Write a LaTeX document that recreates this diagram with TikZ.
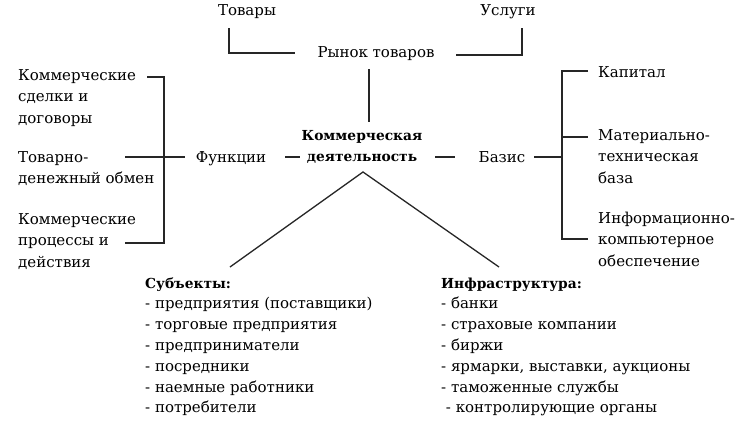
\documentclass[tikz,border=0pt]{standalone}
\usepackage{fontspec}
\setmainfont{DejaVu Serif}
\newcommand{\bhead}[1]{{\fontsize{13.8}{20.8}\selectfont\bfseries #1}}
\begin{document}
\begin{tikzpicture}[x=1pt,y=-1pt,
  txt/.style={inner sep=0pt,font=\fontsize{15}{21.5}\selectfont,align=left,anchor=base west},
  ctr/.style={inner sep=0pt,font=\fontsize{15}{21.5}\selectfont,anchor=base},
  lst/.style={inner sep=0pt,font=\fontsize{15}{20.8}\selectfont,align=left,anchor=base west},
  ln/.style={line width=1.3pt,black!85}]
\useasboundingbox (0,0) rectangle (750,426);
% top
\node[ctr] (tovary) at (247,15) {Товары};
\node[ctr] (uslugi) at (508,15) {Услуги};
\node[ctr] (rynok) at (376,57) {Рынок товаров};
\node[inner sep=0pt,font=\fontsize{13.8}{21.5}\selectfont\bfseries,align=center,anchor=base] (main) at (362,161.5) {Коммерческая\\деятельность};
\node[ctr] (func) at (231,162) {Функции};
\node[ctr] (basis) at (502,162) {Базис};
% left
\node[txt] (l1) at (18,123) {Коммерческие\\сделки и\\договоры};
\node[txt] (l2) at (18,183.5) {Товарно-\\денежный обмен};
\node[txt] (l3) at (18,267) {Коммерческие\\процессы и\\действия};
% right
\node[txt] (r1) at (598,77) {Капитал};
\node[txt] (r2) at (598,183) {Материально-\\техническая\\база};
\node[txt] (r3) at (598,266) {Информационно-\\компьютерное\\обеспечение};
% bottom lists
\node[lst] (subj) at (145,412.8) {\bhead{Субъекты:}\\- предприятия (поставщики)\\- торговые предприятия\\- предприниматели\\- посредники\\- наемные работники\\- потребители};
\node[lst] (infra) at (441,412.8) {\bhead{Инфраструктура:}\\- банки\\- страховые компании\\- биржи\\- ярмарки, выставки, аукционы\\- таможенные службы\\\ - контролирующие органы};
% coordinates
\coordinate (tA) at (229,28); \coordinate (tB) at (229,53); \coordinate (tC) at (295,53);
\coordinate (uA) at (522,28); \coordinate (uB) at (522,55); \coordinate (uC) at (456,55);
\coordinate (rA) at (369,69); \coordinate (rB) at (369,122);
\coordinate (lbT0) at (147,77); \coordinate (lbT) at (164,77); \coordinate (lbB) at (164,243); \coordinate (lbB0) at (125,243);
\coordinate (lbM0) at (125,157); \coordinate (lbM1) at (185,157);
\coordinate (d1a) at (285,157); \coordinate (d1b) at (300,157);
\coordinate (d2a) at (435,157); \coordinate (d2b) at (455,157);
\coordinate (bA) at (534,157); \coordinate (bB) at (562,157);
\coordinate (rbT0) at (588,71); \coordinate (rbT) at (562,71); \coordinate (rbB) at (562,239); \coordinate (rbB0) at (588,239);
\coordinate (rbM) at (562,137); \coordinate (rbM0) at (588,137);
\coordinate (apex) at (363,172); \coordinate (sEnd) at (230,267); \coordinate (iEnd) at (499,267);
% connectors
\draw[ln] (tA) -- (tB) -- (tC);
\draw[ln] (uA) -- (uB) -- (uC);
\draw[ln] (rA) -- (rB);
\draw[ln] (lbT0) -- (lbT) -- (lbB) -- (lbB0);
\draw[ln] (lbM0) -- (lbM1);
\draw[ln] (d1a) -- (d1b);
\draw[ln] (d2a) -- (d2b);
\draw[ln] (bA) -- (bB);
\draw[ln] (rbT0) -- (rbT) -- (rbB) -- (rbB0);
\draw[ln] (rbM) -- (rbM0);
\draw[ln] (sEnd) -- (apex) -- (iEnd);
\end{tikzpicture}
\end{document}
